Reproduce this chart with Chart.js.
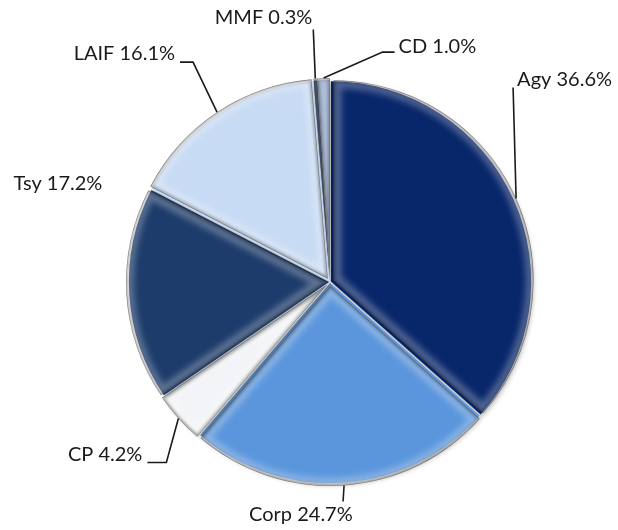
<!DOCTYPE html>
<html>
<head>
<meta charset="utf-8">
<script src="https://cdn.jsdelivr.net/npm/chart.js@4/dist/chart.umd.min.js"></script>
<style>
  html, body { margin: 0; padding: 0; background: #fff; }
  #wrap { width: 618px; height: 530px; }
</style>
</head>
<body>
<div id="wrap"><canvas id="pie"></canvas></div>
<script>
// portfolio mix, clockwise from 12 o'clock
const labels = ['Agy', 'Corp', 'CP', 'Tsy', 'LAIF', 'MMF', 'CD']
const shares = [36.6, 24.7, 4.2, 17.2, 16.1, 0.3, 1.0]
const colors = ['#08266a', '#5b96dc', '#f2f4f7', '#1d3c6b', '#c8dbf4', '#1b3a6e', '#8fa6c9']

// label leaders: elbow offset from slice edge, horizontal tail, text offset, align, draw line?
const leaders = [
  { ex: -3, ey: -111, tail: 0, tx: 4, ty: -8, align: 'left', line: true },
  { ex: -1, ey: 16, tail: 0, tx: -94, ty: 13, align: 'left', line: true },
  { ex: -12, ey: 44, tail: -19, tx: -5, ty: -8, align: 'right', line: true },
  { ex: 0, ey: 0, tail: 0, tx: -24, ty: -111, align: 'right', line: false },
  { ex: -24, ey: -50, tail: -13, tx: -5, ty: -9, align: 'right', line: true },
  { ex: -2, ey: -49, tail: 0, tx: -1, ty: -12, align: 'right', line: true },
  { ex: 59, ey: -26, tail: 12, tx: 4, ty: -6, align: 'left', line: true },
]

function sliceGeom(arc) {
  const p = arc.getProps(['x', 'y', 'startAngle', 'endAngle', 'outerRadius'], true)
  const off = arc.options.offset || 0
  const mid = (p.startAngle + p.endAngle) / 2
  return {
    cx: p.x + Math.cos(mid) * off,
    cy: p.y + Math.sin(mid) * off,
    r: p.outerRadius,
    start: p.startAngle,
    end: p.endAngle,
    mid: mid,
  }
}

function slicePath(ctx, g) {
  ctx.beginPath()
  ctx.moveTo(g.cx, g.cy)
  ctx.arc(g.cx, g.cy, g.r, g.start, g.end)
  ctx.closePath()
}

const bevel = {
  id: 'bevel',
  beforeDatasetsDraw(chart) {
    const ctx = chart.ctx
    ctx.save()
    ctx.shadowColor = 'rgba(0,0,0,0.3)'
    ctx.shadowBlur = 5
    ctx.shadowOffsetX = 2
    ctx.shadowOffsetY = 2
  },
  afterDatasetsDraw(chart) {
    const ctx = chart.ctx
    ctx.restore()
    chart.getDatasetMeta(0).data.forEach((arc) => {
      const g = sliceGeom(arc)
      ctx.save()
      slicePath(ctx, g)
      ctx.clip()
      ctx.lineJoin = 'round'
      // soft light rim
      ctx.filter = 'blur(3px)'
      ctx.strokeStyle = 'rgba(255,255,255,0.28)'
      ctx.lineWidth = 16
      slicePath(ctx, g)
      ctx.stroke()
      // dark edge
      ctx.filter = 'blur(1.5px)'
      ctx.strokeStyle = 'rgba(0,0,0,0.3)'
      ctx.lineWidth = 4
      slicePath(ctx, g)
      ctx.stroke()
      ctx.filter = 'none'
      ctx.strokeStyle = 'rgba(60,60,60,0.45)'
      ctx.lineWidth = 1.2
      slicePath(ctx, g)
      ctx.stroke()
      ctx.restore()
    })
  },
}

const outLabels = {
  id: 'outLabels',
  afterDraw(chart) {
    const ctx = chart.ctx
    const data = chart.data.datasets[0].data
    ctx.save()
    ctx.font = '20px Lato'
    ctx.fillStyle = '#1a1a1a'
    ctx.strokeStyle = '#1a1a1a'
    ctx.lineWidth = 1.6
    ctx.textBaseline = 'middle'
    chart.getDatasetMeta(0).data.forEach((arc, i) => {
      const g = sliceGeom(arc)
      const L = leaders[i]
      const px = g.cx + Math.cos(g.mid) * g.r
      const py = g.cy + Math.sin(g.mid) * g.r
      const bx = px + L.ex
      const by = py + L.ey
      const tx = bx + L.tail
      if (L.line) {
        ctx.beginPath()
        ctx.moveTo(px, py)
        ctx.lineTo(bx, by)
        ctx.lineTo(tx, by)
        ctx.stroke()
      }
      ctx.textAlign = L.align
      ctx.fillText(chart.data.labels[i] + ' ' + data[i].toFixed(1) + '%', tx + L.tx, by + L.ty)
    })
    ctx.restore()
  },
}

new Chart(document.getElementById('pie'), {
  type: 'pie',
  data: {
    labels: labels,
    datasets: [
      {
        data: shares,
        backgroundColor: colors,
        borderWidth: 0,
        offset: 4,
        hoverOffset: 0,
      },
    ],
  },
  options: {
    responsive: true,
    maintainAspectRatio: false,
    animation: false,
    radius: 200,
    layout: { padding: { left: 42, right: 0, top: 34, bottom: 0 } },
    plugins: {
      legend: { display: false },
      tooltip: { enabled: false },
    },
  },
  plugins: [bevel, outLabels],
})
</script>
</body>
</html>
